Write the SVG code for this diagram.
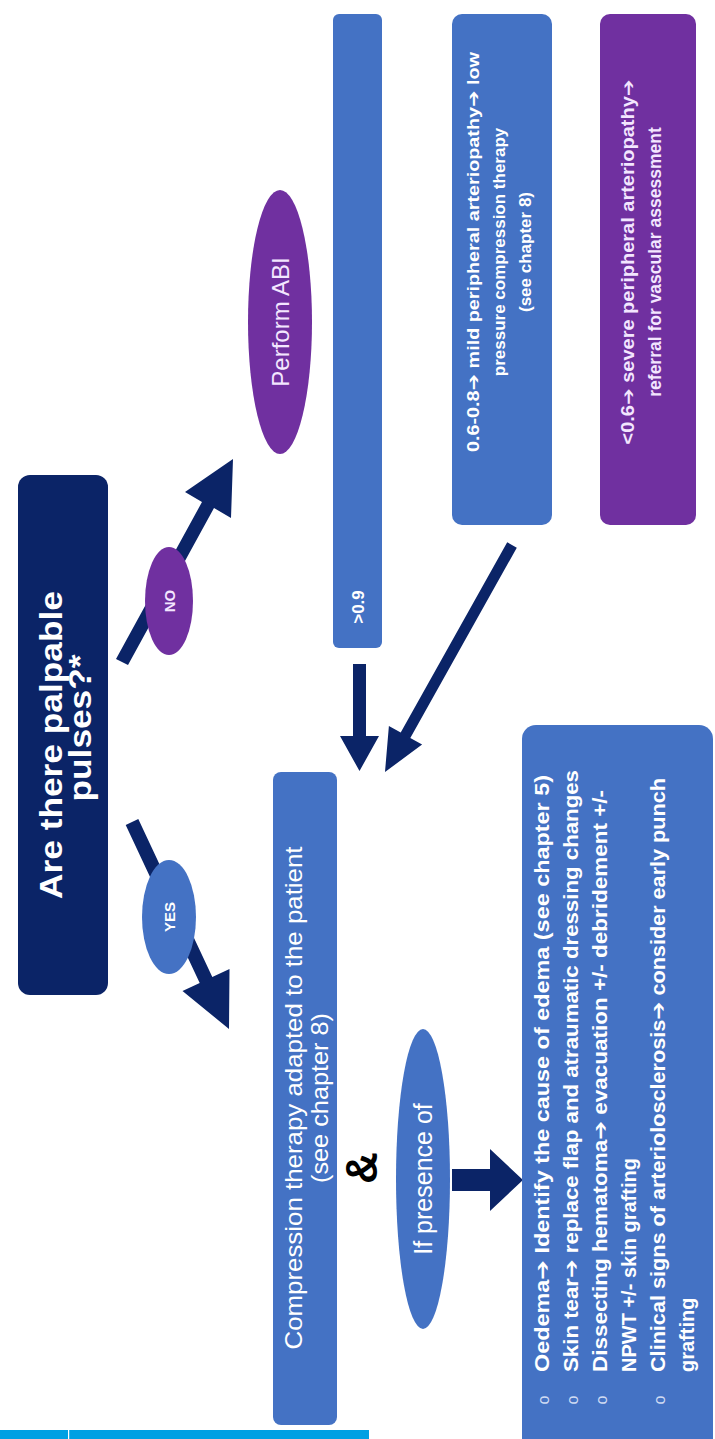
<svg xmlns="http://www.w3.org/2000/svg" width="715" height="1439" viewBox="0 0 715 1439">
<style>
.navy{fill:#0b2467}
.blue{fill:#4472c4}
.purple{fill:#7030a0}
.arrow{fill:#0b2467}
text{font-family:"Liberation Sans","DejaVu Sans",Arial,sans-serif;fill:#ffffff}
.b{font-weight:bold}
.ptxt{fill:#f3e6ff}
.amp{fill:#000000;font-weight:bold}
.bul{fill:#d0dbf3}
</style>
<rect x="0" y="0" width="715" height="1439" fill="#ffffff"/>

<g id="connectors">
  <polygon class="arrow" points="116,659 202,502 185,492 233,459 231,518 214,508 128,665"/>
  <polygon class="arrow" points="125.7,825 199.7,983 182.5,991 229,1029 229.5,969 212.3,977 138.3,819"/>
  <polygon class="arrow" points="353,664 366,664 366,736 379,736 359.5,771 340,736 353,736"/>
  <polygon class="arrow" points="507.2,542.3 400.7,732.6 388.9,726 385,772 422.1,744.6 410.3,738 516.8,547.7"/>
  <polygon class="arrow" points="452,1169 490,1169 490,1149 523,1180 490,1211 490,1191 452,1191"/>
</g>

<g id="question">
  <rect class="navy" x="18" y="475" width="90" height="520" rx="12"/>
  <text class="b" font-size="31" text-anchor="middle" transform="translate(62,745) rotate(-90)" textLength="308" lengthAdjust="spacingAndGlyphs">Are there palpable</text>
  <text class="b" font-size="31" text-anchor="middle" transform="translate(91,728) rotate(-90)" textLength="147" lengthAdjust="spacingAndGlyphs">pulses?*</text>
</g>

<g id="no-label">
  <ellipse class="purple" cx="169" cy="601" rx="24" ry="54"/>
  <text class="b ptxt" font-size="15" text-anchor="middle" transform="translate(175,601) rotate(-90)">NO</text>
</g>

<g id="yes-label">
  <ellipse class="blue" cx="169" cy="917" rx="27" ry="57"/>
  <text class="b" font-size="15" text-anchor="middle" transform="translate(175,917) rotate(-90)">YES</text>
</g>

<g id="perform-abi">
  <ellipse class="purple" cx="280" cy="322" rx="32" ry="132"/>
  <text class="ptxt" font-size="24" text-anchor="middle" transform="translate(289,322) rotate(-90)">Perform ABI</text>
</g>

<g id="abi-gt09">
  <rect class="blue" x="333" y="14" width="49" height="634" rx="6"/>
  <text class="b" font-size="17" text-anchor="middle" transform="translate(364,607) rotate(-90)">&gt;0.9</text>
</g>

<g id="abi-06-08">
  <rect class="blue" x="452" y="14" width="100" height="511" rx="10"/>
  <text class="b" font-size="17" text-anchor="middle" transform="translate(479,252) rotate(-90)" textLength="400" lengthAdjust="spacingAndGlyphs">0.6-0.8➔ mild peripheral arteriopathy➔ low</text>
  <text class="b" font-size="17" text-anchor="middle" transform="translate(505,252) rotate(-90)">pressure compression therapy</text>
  <text class="b" font-size="17" text-anchor="middle" transform="translate(531,252) rotate(-90)">(see chapter 8)</text>
</g>

<g id="abi-lt06">
  <rect class="purple" x="600" y="14" width="96" height="511" rx="10"/>
  <text class="b ptxt" font-size="17.5" text-anchor="middle" transform="translate(634,262) rotate(-90)" textLength="365" lengthAdjust="spacingAndGlyphs">&lt;0.6➔ severe peripheral arteriopathy➔</text>
  <text class="b ptxt" font-size="17.5" text-anchor="middle" transform="translate(661,262) rotate(-90)">referral for vascular assessment</text>
</g>

<g id="compression">
  <rect class="blue" x="273" y="772" width="64" height="653" rx="8"/>
  <text font-size="24" text-anchor="middle" transform="translate(302,1098) rotate(-90)" textLength="503" lengthAdjust="spacingAndGlyphs">Compression therapy adapted to the patient</text>
  <text font-size="24" text-anchor="middle" transform="translate(328,1098) rotate(-90)" textLength="170" lengthAdjust="spacingAndGlyphs">(see chapter 8)</text>
</g>

<g id="and">
  <text class="amp" font-size="44" text-anchor="middle" transform="translate(377,1168) rotate(-90)">&amp;</text>
</g>

<g id="if-presence">
  <ellipse class="blue" cx="423" cy="1179" rx="27" ry="150"/>
  <text font-size="25" text-anchor="middle" transform="translate(432,1179) rotate(-90)">If presence of</text>
</g>

<g id="conditions">
  <rect class="blue" x="522" y="725" width="191" height="730" rx="14"/>
  <text class="bul" font-size="16" text-anchor="middle" transform="translate(549,1400) rotate(-90)">o</text>
  <text class="bul" font-size="16" text-anchor="middle" transform="translate(578,1400) rotate(-90)">o</text>
  <text class="bul" font-size="16" text-anchor="middle" transform="translate(607,1400) rotate(-90)">o</text>
  <text class="bul" font-size="16" text-anchor="middle" transform="translate(665,1400) rotate(-90)">o</text>
  <text class="b" font-size="20" transform="translate(549,1372) rotate(-90)" textLength="597" lengthAdjust="spacingAndGlyphs">Oedema➔ Identify the cause of edema (see chapter 5)</text>
  <text class="b" font-size="20" transform="translate(578,1372) rotate(-90)" textLength="602" lengthAdjust="spacingAndGlyphs">Skin tear➔ replace flap and atraumatic dressing changes</text>
  <text class="b" font-size="20" transform="translate(607,1372) rotate(-90)" textLength="582" lengthAdjust="spacingAndGlyphs">Dissecting hematoma➔ evacuation +/- debridement +/-</text>
  <text class="b" font-size="20" transform="translate(636,1372) rotate(-90)">NPWT +/- skin grafting</text>
  <text class="b" font-size="20" transform="translate(665,1372) rotate(-90)" textLength="594" lengthAdjust="spacingAndGlyphs">Clinical signs of arteriolosclerosis➔ consider early punch</text>
  <text class="b" font-size="20" transform="translate(694,1372) rotate(-90)">grafting</text>
</g>

<g id="footer-bar">
  <rect x="0" y="1430" width="369" height="9" fill="#00a0e3"/>
  <rect x="68" y="1430" width="1.2" height="9" fill="#ffffff"/>
</g>
</svg>
